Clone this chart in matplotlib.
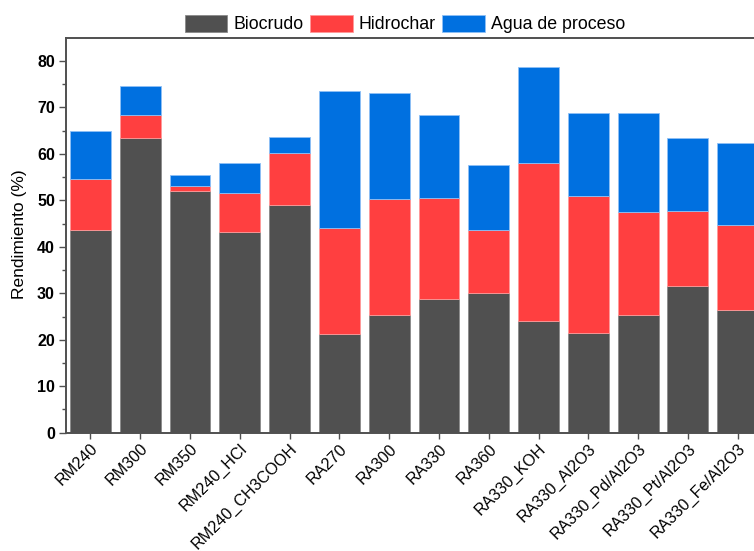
import matplotlib
matplotlib.use('Agg')
import matplotlib.pyplot as plt
import numpy as np

plt.rcParams['font.family'] = ['Liberation Sans', 'DejaVu Sans']

muestras = ["RM240", "RM300", "RM350", "RM240_HCl", "RM240_CH3COOH", "RA270", "RA300",
            "RA330", "RA360", "RA330_KOH", "RA330_Al2O3", "RA330_Pd/Al2O3",
            "RA330_Pt/Al2O3", "RA330_Fe/Al2O3"]
biocrudo = [43.7, 63.5, 52.0, 43.2, 48.9, 21.3, 25.3, 28.8, 30.0, 24.0, 21.4, 25.3, 31.6, 26.5]
hidrochar = [10.9, 4.8, 1.1, 8.3, 11.2, 22.8, 25.0, 21.8, 13.7, 34.1, 29.5, 22.1, 16.1, 18.3]
agua = [10.4, 6.4, 2.4, 6.6, 3.6, 29.4, 22.7, 17.8, 14.0, 20.6, 17.8, 21.3, 15.8, 17.5]

fig = plt.figure(figsize=(7.54, 5.51), dpi=100)
# axes run past the right edge, so the last bar is clipped
ax = fig.add_axes([66 / 754, 1 - 432.7 / 551, (762.6 - 66) / 754, (432.7 - 37.7) / 551])

x = np.arange(len(muestras))
w = 0.82
b1 = ax.bar(x, biocrudo, w, color="#505050", edgecolor="#8a8a8a", linewidth=0.6,
            label="Biocrudo")
b2 = ax.bar(x, hidrochar, w, bottom=biocrudo, color="#ff3f40", edgecolor="#ff9a9a",
            linewidth=0.6, label="Hidrochar")
base = np.array(biocrudo) + np.array(hidrochar)
b3 = ax.bar(x, agua, w, bottom=base, color="#0070e0", edgecolor="#8fc0f5",
            linewidth=0.6, label="Agua de proceso")

ax.set_xlim(-0.49, 13.5)
ax.set_ylim(0, 85)
ax.set_yticks(np.arange(0, 81, 10))
ax.set_yticks(np.arange(5, 85, 10), minor=True)
ax.set_xticks(x)
ax.set_xticklabels(muestras, rotation=45, ha="right", va="top",
                   rotation_mode="anchor", fontsize=11.6)
for lbl in ax.get_yticklabels():
    lbl.set_fontweight("bold")
    lbl.set_fontsize(11.5)

for side in ["left", "top", "bottom"]:
    ax.spines[side].set_color("#505050")
    ax.spines[side].set_linewidth(1.4)
ax.spines["right"].set_visible(False)
ax.tick_params(axis="y", which="major", length=5, width=1, color="#505050", pad=3)
ax.tick_params(axis="y", which="minor", length=3, width=1, color="#505050")
ax.tick_params(axis="x", length=4, width=1, color="#505050", pad=2)

fig.text(20 / 754, 1 - 234 / 551, "Rendimiento (%)", rotation=90, ha="center",
         va="center", fontsize=12.5)

fig.legend(handles=[b1, b2, b3], loc="center", bbox_to_anchor=(405 / 754, 1 - 24 / 551),
           ncol=3, frameon=False, fontsize=12.8, handlelength=2.4, handleheight=1.1,
           handletextpad=0.35, columnspacing=0.35, borderaxespad=0, borderpad=0)

fig.savefig("out.png", dpi=100)
